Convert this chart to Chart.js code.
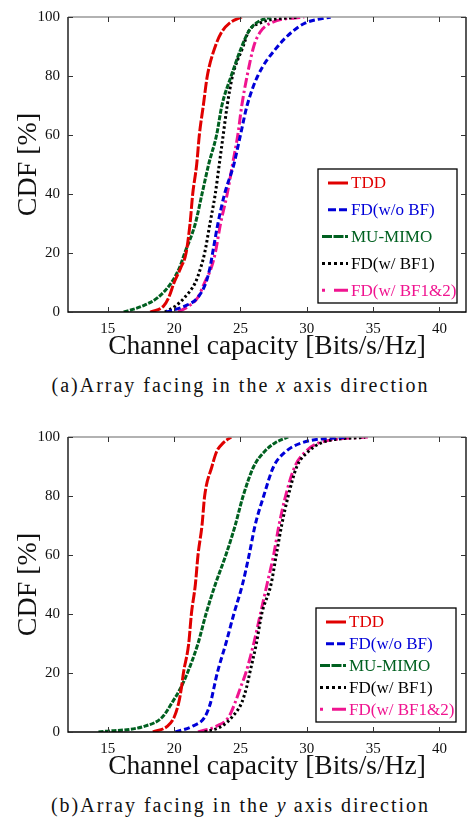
<!DOCTYPE html>
<html>
<head>
<meta charset="utf-8">
<script src="https://cdn.jsdelivr.net/npm/chart.js@4.4.1/dist/chart.umd.min.js"></script>
<style>
  body { margin: 0; background: #fff; width: 467px; height: 821px; overflow: hidden; font-family: "Liberation Serif", serif; }
  .panel { position: absolute; left: 0; width: 467px; height: 365px; }
  .caption { position: absolute; left: 7px; width: 467px; text-align: center; font-size: 20px; letter-spacing: 2px; color: #111; line-height: 24px; }
  .caption i { letter-spacing: 1px; }
</style>
</head>
<body>
<div class="panel" style="top:0"><canvas id="chartA" width="467" height="365"></canvas></div>
<div class="caption" style="top:373px">(a)Array facing in the <i>x</i> axis direction</div>
<div class="panel" style="top:420px"><canvas id="chartB" width="467" height="365"></canvas></div>
<div class="caption" style="top:793px">(b)Array facing in the <i>y</i> axis direction</div>
<script>
// CDF levels [%] shared by every curve
const cdfLevels = [0, 2, 5, 10, 15, 20, 30, 40, 50, 60, 70, 80, 90, 95, 98, 100];
const xTicks = [15, 20, 25, 30, 35, 40];
const yTicks = [0, 20, 40, 60, 80, 100];
const seriesNames = ['TDD', 'FD(w/o BF)', 'MU-MIMO', 'FD(w/ BF1)', 'FD(w/ BF1&2)'];

// (a) array facing x direction: capacity [Bits/s/Hz] at each CDF level
const tddA    = [18.2, 19.2, 19.6, 20.0, 20.5, 20.9, 21.2, 21.4, 21.7, 21.9, 22.2, 22.5, 23.1, 23.6, 24.2, 25.1];
const fdNoA   = [19.4, 20.8, 21.8, 22.4, 22.7, 22.9, 23.3, 23.8, 24.5, 25.0, 25.5, 26.3, 27.8, 28.9, 29.9, 31.8];
const muA     = [16.2, 17.6, 18.8, 19.8, 20.4, 20.8, 21.6, 22.1, 22.6, 23.2, 23.6, 24.3, 25.1, 25.6, 26.2, 27.3];
const fdBf1A  = [19.3, 20.1, 20.8, 21.6, 22.0, 22.3, 22.7, 23.1, 23.4, 23.7, 24.0, 24.4, 25.2, 25.6, 26.5, 29.4];
const fdBf12A = [20.3, 21.1, 21.8, 22.3, 22.8, 23.1, 23.5, 24.0, 24.4, 24.8, 25.1, 25.5, 26.0, 26.5, 27.3, 29.8];

// (b) array facing y direction
const tddB    = [18.4, 19.5, 20.0, 20.35, 20.55, 20.7, 21.1, 21.3, 21.6, 21.8, 22.1, 22.3, 22.85, 23.2, 23.7, 24.3];
const fdNoB   = [20.1, 21.4, 22.3, 22.75, 23.0, 23.25, 23.9, 24.5, 25.15, 25.65, 26.1, 26.75, 27.5, 28.4, 29.6, 33.0];
const muB     = [14.3, 17.8, 19.1, 19.85, 20.5, 21.0, 21.8, 22.4, 23.1, 23.9, 24.6, 25.2, 26.0, 26.8, 27.6, 28.6];
const fdBf1B  = [22.3, 23.6, 24.35, 25.1, 25.45, 25.7, 26.2, 26.6, 27.3, 27.7, 28.1, 28.6, 29.25, 30.1, 31.1, 34.4];
const fdBf12B = [21.8, 23.2, 24.1, 24.6, 25.0, 25.4, 26.0, 26.5, 27.0, 27.5, 27.9, 28.4, 29.1, 29.9, 30.9, 34.6];

const serif = '"Liberation Serif", "Times New Roman", serif';

const styles = [
  { color: '#e00000', dash: [11, 2], sample: [], sampleStart: 6 },
  { color: '#0000d8', dash: [6, 3], sample: [8, 3], sampleStart: 6 },
  { color: '#006020', dash: [5, 1.5], sample: [10, 1.5], sampleStart: 0 },
  { color: '#000000', dash: [2.5, 2.5], sample: [3, 3], sampleStart: 0 },
  { color: '#f01490', dash: [10, 3, 2.5, 3], sample: [3, 9, 14, 3], sampleStart: 0 }
];

function makeDatasets(list) {
  return list.map((xs, i) => ({
    label: seriesNames[i],
    data: cdfLevels.map((p, k) => ({ x: xs[k], y: p })),
    borderColor: styles[i].color,
    borderDash: styles[i].dash,
    borderWidth: 3,
    pointRadius: 0,
    showLine: true,
    fill: false,
    cubicInterpolationMode: 'monotone'
  }));
}

// frame, inward ticks and inset legend
const framePlugin = {
  id: 'frame',
  afterDraw(chart, args, opts) {
    const { ctx, chartArea: a, scales } = chart;
    ctx.save();
    ctx.lineWidth = 1.3;
    ctx.strokeStyle = '#999';
    ctx.beginPath(); ctx.moveTo(a.left, a.top); ctx.lineTo(a.right, a.top); ctx.stroke();
    ctx.strokeStyle = '#000';
    ctx.beginPath();
    ctx.moveTo(a.left, a.top); ctx.lineTo(a.left, a.bottom); ctx.lineTo(a.right, a.bottom); ctx.lineTo(a.right, a.top);
    ctx.stroke();
    ctx.strokeStyle = '#333';
    ctx.lineWidth = 1;
    scales.x.ticks.forEach((t, i) => {
      const px = Math.round(scales.x.getPixelForTick(i)) + 0.5;
      ctx.beginPath();
      ctx.moveTo(px, a.bottom); ctx.lineTo(px, a.bottom - 5);
      ctx.moveTo(px, a.top); ctx.lineTo(px, a.top + 5);
      ctx.stroke();
    });
    scales.y.ticks.forEach((t, i) => {
      const py = Math.round(scales.y.getPixelForTick(i)) + 0.5;
      ctx.beginPath();
      ctx.moveTo(a.left, py); ctx.lineTo(a.left + 5, py);
      ctx.moveTo(a.right, py); ctx.lineTo(a.right - 5, py);
      ctx.stroke();
    });

    // legend box
    const bx = a.right - opts.offRight - opts.w;
    const by = a.bottom - opts.offBottom - opts.h;
    ctx.fillStyle = '#fff';
    ctx.fillRect(bx, by, opts.w, opts.h);
    ctx.strokeStyle = '#000';
    ctx.lineWidth = 1.3;
    ctx.strokeRect(bx, by, opts.w, opts.h);
    ctx.font = '17px ' + serif;
    ctx.textBaseline = 'middle';
    chart.data.datasets.forEach((ds, i) => {
      const s = styles[i];
      const y = by + opts.first + i * opts.gap;
      ctx.strokeStyle = s.color;
      ctx.lineWidth = 3;
      ctx.setLineDash(s.sample);
      ctx.beginPath();
      ctx.moveTo(bx + 4 + s.sampleStart, y);
      ctx.lineTo(bx + 30, y);
      ctx.stroke();
      ctx.setLineDash([]);
      ctx.fillStyle = s.color;
      ctx.fillText(ds.label, bx + 33, y + 1);
    });
    ctx.restore();
  }
};

function makeChart(id, list, legend) {
  return new Chart(document.getElementById(id), {
    type: 'scatter',
    data: { datasets: makeDatasets(list) },
    options: {
      responsive: false,
      animation: false,
      layout: { padding: { top: 14, right: 1, left: 0, bottom: 0 } },
      plugins: { legend: { display: false }, tooltip: { enabled: false }, frame: legend },
      scales: {
        x: {
          type: 'linear', min: 12, max: 42,
          afterBuildTicks: s => { s.ticks = xTicks.map(v => ({ value: v })); },
          afterFit: s => { s.height = 53; },
          grid: { display: false, drawTicks: false },
          border: { display: false },
          ticks: { color: '#111', font: { family: serif, size: 15 }, padding: 8, maxRotation: 0 },
          title: { display: true, text: 'Channel capacity [Bits/s/Hz]', color: '#111', font: { family: serif, size: 27.5 }, padding: { top: 0, bottom: 2 } }
        },
        y: {
          type: 'linear', min: 0, max: 100,
          afterBuildTicks: s => { s.ticks = yTicks.map(v => ({ value: v })); },
          afterFit: s => { s.width = 68; },
          grid: { display: false, drawTicks: false },
          border: { display: false },
          ticks: { color: '#111', font: { family: serif, size: 15 }, padding: 8 },
          title: { display: true, text: 'CDF [%]', color: '#111', font: { family: serif, size: 28 }, padding: { top: 12, bottom: 0 } }
        }
      }
    },
    plugins: [framePlugin]
  });
}

makeChart('chartA', [tddA, fdNoA, muA, fdBf1A, fdBf12A], { w: 139, h: 134, offRight: 9, offBottom: 9, first: 14, gap: 26.8 });
makeChart('chartB', [tddB, fdNoB, muB, fdBf1B, fdBf12B], { w: 140, h: 114, offRight: 10, offBottom: 10, first: 14, gap: 21.8 });
</script>
</body>
</html>
